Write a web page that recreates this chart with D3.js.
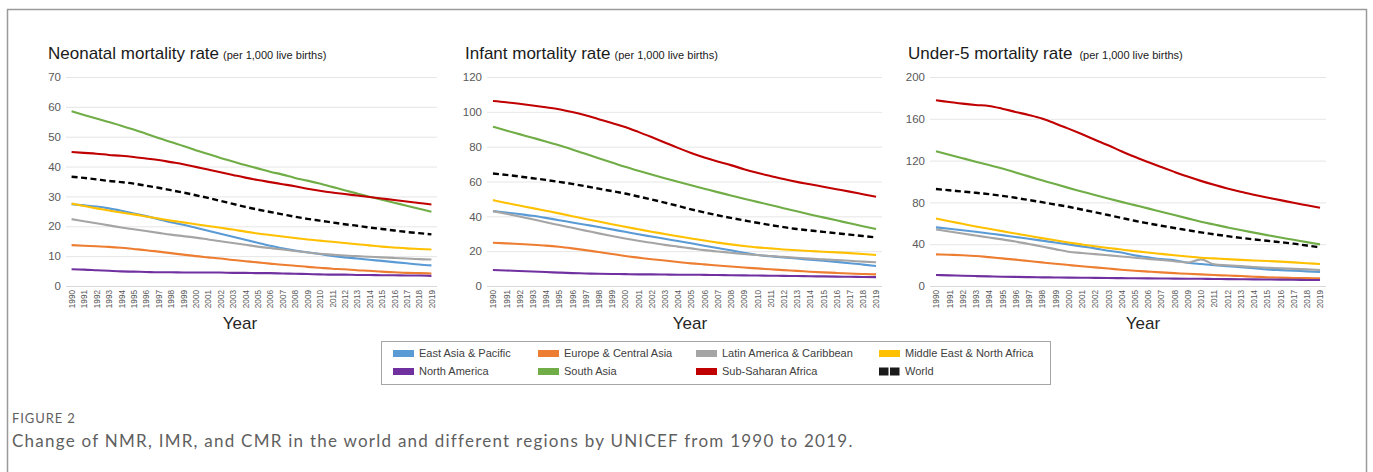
<!DOCTYPE html>
<html>
<head>
<meta charset="utf-8">
<script src="https://cdn.jsdelivr.net/npm/d3@7"></script>
<style>
    body { margin: 0; background: #fff; }
    svg { display: block; font-family: 'Liberation Sans', Arial, sans-serif; }
    .grid line { stroke: #e6e6e6; stroke-width: 1; }
    .grid .domain { display: none; }
    .grid text { fill: #595959; font-size: 11.5px; }
    .x-axis .domain { stroke: #d9d9d9; }
    .x-axis text { fill: #595959; font-size: 8.2px; }
</style>
</head>
<body>
<svg id="chart" width="1373" height="472"></svg>
<script>
const years = [1990, 1991, 1992, 1993, 1994, 1995, 1996, 1997, 1998, 1999,
    2000, 2001, 2002, 2003, 2004, 2005, 2006, 2007, 2008, 2009,
    2010, 2011, 2012, 2013, 2014, 2015, 2016, 2017, 2018, 2019];

const regions = ['East Asia & Pacific', 'Europe & Central Asia', 'Latin America & Caribbean',
    'Middle East & North Africa', 'North America', 'South Asia', 'Sub-Saharan Africa', 'World'];
const regionColors = ['#5b9bd5', '#ed7d31', '#a5a5a5', '#ffc000', '#7030a0', '#70ad47', '#c00000', '#000000'];

// neonatal mortality rate
const nmrEastAsia = [27.4, 27.0, 26.6, 26.0, 25.2, 24.3, 23.4, 22.4, 21.4, 20.5, 19.5, 18.5, 17.5, 16.5, 15.5,
    14.5, 13.5, 12.6, 11.9, 11.3, 10.7, 10.1, 9.6, 9.2, 8.8, 8.4, 8.0, 7.6, 7.2, 6.9];
const nmrEurope = [13.7, 13.5, 13.3, 13.1, 12.8, 12.4, 12.0, 11.5, 11.0, 10.5, 10.0, 9.6, 9.2, 8.7, 8.3,
    7.9, 7.5, 7.1, 6.8, 6.4, 6.1, 5.8, 5.6, 5.3, 5.1, 4.8, 4.6, 4.4, 4.3, 4.2];
const nmrLatin = [22.4, 21.7, 21.0, 20.3, 19.6, 19.0, 18.4, 17.8, 17.2, 16.7, 16.2, 15.6, 15.0, 14.4, 13.8,
    13.2, 12.7, 12.2, 11.7, 11.2, 10.8, 10.5, 10.2, 10.0, 9.8, 9.6, 9.4, 9.2, 9.0, 8.9];
const nmrMiddleEast = [27.6, 26.8, 26.0, 25.3, 24.6, 24.0, 23.3, 22.6, 21.9, 21.3, 20.7, 20.1, 19.5, 18.9, 18.2,
    17.6, 17.1, 16.6, 16.1, 15.6, 15.2, 14.8, 14.4, 14.0, 13.6, 13.2, 12.9, 12.6, 12.4, 12.2];
const nmrNorthAmerica = [5.6, 5.5, 5.3, 5.1, 4.9, 4.8, 4.7, 4.6, 4.6, 4.5, 4.5, 4.5, 4.5, 4.4, 4.4,
    4.3, 4.3, 4.2, 4.1, 4.0, 3.9, 3.8, 3.8, 3.7, 3.7, 3.6, 3.6, 3.5, 3.5, 3.4];
const nmrSouthAsia = [58.5, 57.3, 56.1, 54.9, 53.7, 52.4, 51.0, 49.6, 48.2, 46.9, 45.5, 44.2, 42.9, 41.7, 40.5,
    39.4, 38.3, 37.3, 36.2, 35.3, 34.3, 33.2, 32.1, 31.0, 29.9, 28.9, 27.9, 26.9, 25.9, 24.9];
const nmrSubSaharan = [44.9, 44.6, 44.3, 43.9, 43.6, 43.2, 42.7, 42.2, 41.5, 40.8, 39.9, 39.0, 38.1, 37.2, 36.3,
    35.5, 34.8, 34.1, 33.4, 32.6, 31.9, 31.3, 30.8, 30.3, 29.8, 29.3, 28.8, 28.3, 27.8, 27.3];
const nmrWorld = [36.6, 36.2, 35.7, 35.2, 34.8, 34.3, 33.6, 32.9, 32.1, 31.3, 30.4, 29.5, 28.5, 27.5, 26.5,
    25.6, 24.8, 24.0, 23.2, 22.5, 21.9, 21.3, 20.7, 20.2, 19.6, 19.1, 18.6, 18.1, 17.7, 17.3];

// infant mortality rate
const imrEastAsia = [43.0, 42.2, 41.3, 40.3, 39.1, 37.8, 36.5, 35.2, 33.9, 32.5, 31.1, 29.7, 28.4, 27.1, 25.8,
    24.5, 23.1, 21.8, 20.5, 19.1, 17.8, 17.1, 16.4, 15.8, 15.1, 14.5, 13.8, 13.1, 12.3, 11.5];
const imrEurope = [24.8, 24.5, 24.1, 23.7, 23.2, 22.5, 21.6, 20.6, 19.5, 18.4, 17.2, 16.3, 15.4, 14.6, 13.8,
    13.0, 12.4, 11.8, 11.2, 10.6, 10.1, 9.6, 9.1, 8.7, 8.2, 7.8, 7.5, 7.2, 6.9, 6.7];
const imrLatin = [43.0, 41.5, 39.9, 38.3, 36.6, 35.0, 33.4, 31.8, 30.2, 28.7, 27.3, 26.0, 24.8, 23.6, 22.6,
    21.6, 20.6, 19.8, 19.1, 18.4, 17.8, 17.2, 16.7, 16.2, 15.7, 15.3, 14.9, 14.5, 14.0, 13.6];
const imrMiddleEast = [49.3, 47.7, 46.2, 44.7, 43.2, 41.7, 40.1, 38.5, 37.0, 35.5, 34.0, 32.6, 31.2, 29.9, 28.6,
    27.3, 26.1, 24.9, 23.9, 23.0, 22.2, 21.6, 21.0, 20.5, 20.1, 19.7, 19.3, 18.9, 18.4, 17.8];
const imrNorthAmerica = [9.2, 8.9, 8.6, 8.3, 8.0, 7.7, 7.4, 7.2, 7.0, 6.9, 6.8, 6.7, 6.7, 6.6, 6.5,
    6.5, 6.4, 6.3, 6.2, 6.1, 6.0, 5.9, 5.8, 5.7, 5.6, 5.5, 5.4, 5.3, 5.2, 5.1];
const imrSouthAsia = [91.5, 89.3, 87.2, 85.1, 83.0, 80.8, 78.4, 75.9, 73.4, 70.9, 68.4, 66.2, 64.0, 61.9, 59.9,
    57.9, 55.9, 53.9, 52.0, 50.1, 48.3, 46.5, 44.7, 42.9, 41.1, 39.4, 37.7, 36.0, 34.3, 32.7];
const imrSubSaharan = [106.2, 105.5, 104.6, 103.6, 102.6, 101.5, 99.9, 98.0, 95.8, 93.6, 91.3, 88.5, 85.5, 82.4, 79.3,
    76.4, 73.8, 71.5, 69.4, 67.1, 65.0, 63.2, 61.4, 59.8, 58.4, 57.0, 55.6, 54.2, 52.7, 51.2];
const imrWorld = [64.6, 63.8, 62.9, 61.9, 60.9, 59.8, 58.6, 57.3, 55.9, 54.5, 53.1, 51.4, 49.7, 47.9, 46.0,
    44.0, 42.3, 40.6, 39.1, 37.7, 36.3, 35.0, 33.8, 32.7, 31.9, 31.1, 30.3, 29.5, 28.7, 27.9];

// under-5 mortality rate
const cmrEastAsia = [56.1, 54.8, 53.4, 51.9, 50.3, 48.7, 46.9, 45.2, 43.4, 41.6, 39.8, 37.9, 36.0, 33.8, 32.0,
    29.3, 27.5, 25.7, 24.6, 22.3, 21.0, 19.9, 18.9, 18.0, 17.0, 15.9, 15.2, 14.6, 14.0, 13.4];
const cmrEurope = [30.3, 29.9, 29.4, 28.7, 27.6, 26.4, 25.2, 23.9, 22.6, 21.3, 20.1, 18.9, 17.8, 16.7, 15.6,
    14.6, 13.8, 13.0, 12.3, 11.7, 11.1, 10.5, 10.0, 9.5, 8.9, 8.3, 8.0, 7.7, 7.5, 7.3];
const cmrLatin = [54.1, 52.2, 50.2, 48.3, 46.4, 44.6, 42.6, 40.2, 37.8, 35.3, 32.8, 31.6, 30.5, 29.4, 28.3,
    27.1, 26.0, 24.9, 23.7, 22.5, 25.5, 20.7, 19.8, 19.0, 18.2, 17.5, 17.0, 16.4, 15.9, 15.3];
const cmrMiddleEast = [64.6, 62.0, 59.5, 57.0, 54.7, 52.5, 50.2, 48.0, 45.8, 43.7, 41.7, 39.8, 38.0, 36.4, 34.9,
    33.4, 32.0, 30.7, 29.4, 28.2, 27.1, 26.4, 25.7, 25.0, 24.4, 23.9, 23.3, 22.6, 21.8, 21.0];
const cmrNorthAmerica = [10.5, 10.2, 9.8, 9.5, 9.2, 8.9, 8.7, 8.5, 8.3, 8.2, 8.0, 7.9, 7.8, 7.7, 7.5,
    7.4, 7.3, 7.2, 7.1, 7.0, 6.9, 6.7, 6.6, 6.5, 6.3, 6.2, 6.1, 6.0, 5.8, 5.7];
const cmrSouthAsia = [129.0, 125.6, 122.3, 119.0, 115.7, 112.4, 108.7, 104.9, 101.2, 97.5, 93.9, 90.5, 87.0, 83.7, 80.5,
    77.4, 74.3, 71.1, 67.9, 64.7, 61.5, 58.8, 56.1, 53.5, 51.1, 48.7, 46.4, 44.2, 42.0, 39.8];
const cmrSubSaharan = [177.7, 176.1, 174.5, 173.2, 172.3, 169.7, 166.6, 163.6, 160.2, 155.6, 150.6, 145.4, 140.0, 134.7, 129.0,
    123.6, 118.7, 113.9, 109.2, 104.7, 100.6, 96.8, 93.3, 90.1, 87.3, 84.7, 82.2, 79.6, 77.2, 74.8];
const cmrWorld = [92.8, 91.6, 90.4, 89.2, 87.9, 86.3, 84.4, 82.3, 80.2, 78.0, 75.8, 73.2, 70.6, 67.9, 65.2,
    62.4, 60.0, 57.7, 55.5, 53.4, 51.3, 49.5, 47.7, 46.1, 44.6, 43.3, 41.9, 40.5, 38.7, 37.0];

const titles = ['Neonatal mortality rate', 'Infant mortality rate', 'Under-5 mortality rate'];
const subtitle = '(per 1,000 live births)';
const yTicks = [[0, 10, 20, 30, 40, 50, 60, 70], [0, 20, 40, 60, 80, 100, 120], [0, 40, 80, 120, 160, 200]];
const panelSeries = [
    [nmrEastAsia, nmrEurope, nmrLatin, nmrMiddleEast, nmrNorthAmerica, nmrSouthAsia, nmrSubSaharan, nmrWorld],
    [imrEastAsia, imrEurope, imrLatin, imrMiddleEast, imrNorthAmerica, imrSouthAsia, imrSubSaharan, imrWorld],
    [cmrEastAsia, cmrEurope, cmrLatin, cmrMiddleEast, cmrNorthAmerica, cmrSouthAsia, cmrSubSaharan, cmrWorld],
];
const captionLabel = 'FIGURE 2';
const captionText = 'Change of NMR, IMR, and CMR in the world and different regions by UNICEF from 1990 to 2019.';

function translate(x, y) {
    return `translate(${x}, ${y})`;
}

// where each panel sits on the page
const panels = [
    { left: 66, right: 437, titleX: 48, yearX: 240, gap: 4 },
    { left: 487, right: 882, titleX: 465, yearX: 690, gap: 4 },
    { left: 930, right: 1326, titleX: 908, yearX: 1143, gap: 7 },
];
const plotTop = 77, plotBottom = 286;

function drawPanel(svg, p, i) {
    const ticks = yTicks[i];
    const x = d3.scalePoint().domain(years).range([p.left, p.right]).padding(0.45);
    const y = d3.scaleLinear().domain([0, ticks[ticks.length - 1]]).range([plotBottom, plotTop]);
    const width = p.right - p.left;

    const title = svg.append('text')
        .attr('x', p.titleX).attr('y', 59)
        .style('font-size', '17px')
        .style('fill', '#1a1a1a')
        .text(titles[i]);
    title.append('tspan')
        .attr('dx', p.gap)
        .style('font-size', '11px')
        .text(subtitle);

    svg.append('g')
        .attr('class', 'grid')
        .attr('transform', translate(p.left, 0))
        .call(d3.axisLeft(y).tickValues(ticks).tickSize(-width).tickPadding(5))
        .selectAll('.tick line').filter(d => d === 0).remove();

    const xAxis = svg.append('g')
        .attr('class', 'x-axis')
        .attr('transform', translate(0, plotBottom))
        .call(d3.axisBottom(x).tickSize(0).tickSizeOuter(0));
    xAxis.select('.domain').attr('d', `M${p.left},0.5H${p.right}`);
    xAxis.selectAll('text')
        .attr('transform', 'rotate(-90)')
        .attr('text-anchor', 'end')
        .attr('x', -4).attr('y', 0).attr('dy', '0.35em');

    svg.append('text')
        .attr('x', p.yearX).attr('y', 329)
        .attr('text-anchor', 'middle')
        .style('font-size', '17px')
        .style('fill', '#262626')
        .text('Year');

    const line = d3.line()
        .x((d, j) => x(years[j]))
        .y(d => y(d))
        .curve(d3.curveMonotoneX);

    svg.append('g').selectAll('path')
        .data(panelSeries[i])
        .enter().append('path')
            .attr('d', line)
            .style('fill', 'none')
            .style('stroke', (d, k) => regionColors[k])
            .style('stroke-width', (d, k) => k === 7 ? 2.4 : 2.1)
            .style('stroke-dasharray', (d, k) => k === 7 ? '6,3.5' : null);
}

function drawLegend(svg) {
    const legend = svg.append('g').attr('transform', translate(381, 341));
    legend.append('rect')
        .attr('x', 0.5).attr('y', 0.5)
        .attr('width', 669).attr('height', 43)
        .style('fill', 'none').style('stroke', '#a6a6a6');
    const colX = [12, 157, 315, 498];
    const items = legend.selectAll('g.item').data(regions)
        .enter().append('g')
            .attr('class', 'item')
            .attr('transform', (d, k) => translate(colX[k % 4], k < 4 ? 9 : 27));
    items.each(function(d, k) {
        const g = d3.select(this);
        if (k === 7) {
            g.append('rect').attr('x', 0).attr('y', -0.5).attr('width', 9.5).attr('height', 8).style('fill', '#1a1a1a');
            g.append('rect').attr('x', 11).attr('y', -0.5).attr('width', 9.5).attr('height', 8).style('fill', '#1a1a1a');
        } else {
            g.append('rect').attr('width', 21).attr('height', 7).style('fill', regionColors[k]);
        }
    });
    items.append('text')
        .attr('x', 26).attr('y', 7)
        .style('font-size', '11px')
        .style('fill', '#404040')
        .text(d => d);
}

function render() {
    const svg = d3.select('#chart');
    svg.selectAll('*').remove();

    svg.append('rect')
        .attr('x', 7.5).attr('y', 9.5)
        .attr('width', 1359).attr('height', 500)
        .style('fill', 'none').style('stroke', '#9a9a9a').style('stroke-width', 1.5);

    panels.forEach((p, i) => drawPanel(svg, p, i));
    drawLegend(svg);

    svg.append('text')
        .attr('x', 12).attr('y', 423)
        .style('font-family', 'Lato, sans-serif')
        .style('font-size', '13px')
        .style('letter-spacing', '0.9px')
        .style('fill', '#5f5f5f')
        .text(captionLabel);
    svg.append('text')
        .attr('x', 12).attr('y', 447)
        .style('font-family', 'Lato, sans-serif')
        .style('font-size', '17px')
        .style('letter-spacing', '1.25px')
        .style('fill', '#5f5f5f')
        .text(captionText);
}

render();
</script>
</body>
</html>
